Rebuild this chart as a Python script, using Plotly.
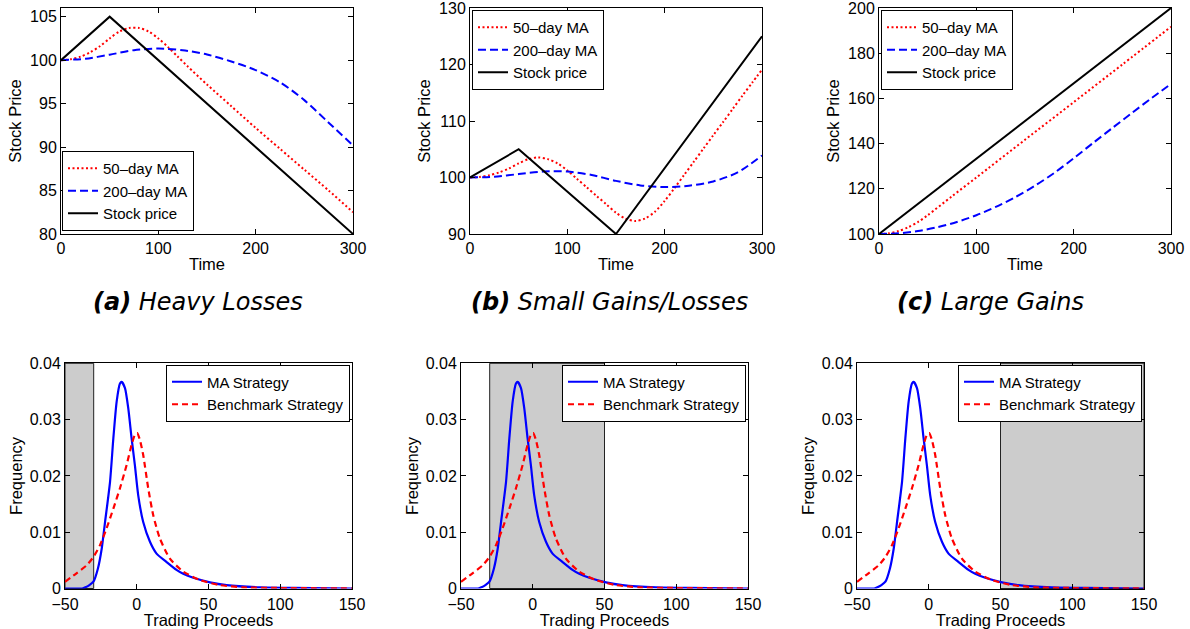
import plotly.graph_objects as go
from plotly.subplots import make_subplots

# ---------------- data: top row (stock price paths) ----------------
# (a) Heavy Losses
a_price_t = [0, 50, 300]
a_price = [100, 105, 80]
a_ma50_t = [0, 10, 20, 30, 40, 50, 60, 70, 80, 90, 100, 110, 120, 130, 150, 175, 200, 225, 250, 275, 300]
a_ma50 = [100, 100.1, 100.4, 100.9, 101.6, 102.5, 103.3, 103.7, 103.7, 103.3, 102.5, 101.5, 100.4, 99.3,
          97.2, 94.7, 92.2, 89.8, 87.4, 85.0, 82.5]
a_ma200_t = [0, 25, 50, 75, 100, 125, 150, 175, 200, 225, 250, 275, 300]
a_ma200 = [100, 100.16, 100.63, 101.15, 101.34, 101.15, 100.65, 99.85, 98.85, 97.45, 95.4, 92.8, 90.2]

# (b) Small Gains/Losses
b_price_t = [0, 50, 150, 300]
b_price = [100, 105, 90, 125]
b_ma50_t = [0, 10, 20, 30, 40, 50, 60, 70, 80, 90, 100, 110, 120, 130, 140, 150, 160, 170, 180, 190,
            200, 210, 220, 230, 240, 250, 260, 270, 280, 290, 300]
b_ma50 = [100, 100.1, 100.4, 100.9, 101.6, 102.5, 103.25, 103.55, 103.25, 102.5, 101.25, 99.75, 98.25,
          96.75, 95.25, 93.75, 92.7, 92.3, 92.75, 93.95, 95.85, 98.1, 100.45, 102.8, 105.15, 107.5,
          109.8, 112.15, 114.5, 116.8, 119.1]
b_ma200_t = [0, 25, 50, 75, 100, 125, 150, 175, 200, 225, 250, 275, 300]
b_ma200 = [100, 100.15, 100.6, 101.05, 101.05, 100.45, 99.4, 98.6, 98.3, 98.55, 99.3, 100.9, 103.9]

# (c) Large Gains
c_price_t = [0, 300]
c_price = [100, 200]
c_ma50_t = [0, 10, 20, 30, 40, 50, 75, 100, 150, 200, 250, 300]
c_ma50 = [100, 100.3, 101.3, 103.0, 105.3, 108.3, 116.7, 125.0, 141.7, 158.3, 175.0, 191.7]
c_ma200_t = [0, 20, 40, 60, 80, 100, 120, 140, 160, 180, 200, 220, 240, 260, 280, 300]
c_ma200 = [100, 100.3, 101.3, 103.0, 105.3, 108.3, 112.0, 116.3, 121.3, 127.0, 133.5, 140.3, 147.0,
           153.6, 160.1, 166.4]

# ---------------- data: bottom row (distributions) ----------------
ma_x = [-50, -38, -35.8, -33, -30.2, -27, -24.4, -22.1, -18.6, -16.3, -14, -11.7, -10.5, -8.2, -5.9,
        -3.6, -1.3, 1.0, 4.5, 9.2, 13.8, 20.8, 27.7, 32.4, 39.4, 51, 62.6, 85.8, 109, 150]
ma_y = [0, 0, 0.0002, 0.0006, 0.0012, 0.0036, 0.0071, 0.0118, 0.019, 0.0267, 0.0332, 0.0364, 0.0367,
        0.0356, 0.032, 0.0267, 0.0219, 0.0166, 0.0118, 0.0083, 0.0062, 0.0047, 0.0033, 0.0026, 0.0019,
        0.0011, 0.0006, 0.0002, 0.0001, 0]
bench_x = [-50, -42, -35, -30.2, -25.6, -21, -16.3, -11.7, -7.1, -3.6, -1.3, 0.3, 2.2, 4.5, 8, 11.5,
           16.1, 23.1, 32.4, 44, 58, 74.2, 97.5, 150]
bench_y = [0.0012, 0.0027, 0.0041, 0.0056, 0.0077, 0.0107, 0.0142, 0.0178, 0.0219, 0.0255, 0.0273,
           0.0276, 0.0264, 0.0237, 0.0178, 0.013, 0.0089, 0.0053, 0.003, 0.0015, 0.0006, 0.0002,
           0.0001, 0]

shade_ranges = [(-50, -30), (-30, 50), (50, 150)]

captions = ["<b>(a)</b> Heavy Losses", "<b>(b)</b> Small Gains/Losses", "<b>(c)</b> Large Gains"]
top_yticks = [[80, 85, 90, 95, 100, 105], [90, 100, 110, 120, 130], [100, 120, 140, 160, 180, 200]]
top_yranges = [[80, 106], [90, 130], [100, 200]]
time_ticks = [0, 100, 200, 300]
proc_ticks = [-50, 0, 50, 100, 150]
freq_ticks = [0, 0.01, 0.02, 0.03, 0.04]
freq_ticktext = ["0", "0.01", "0.02", "0.03", "0.04"]

# ---------------- figure ----------------
W, H = 1190, 629
FONT = "Arial, Liberation Sans, sans-serif"
RED, BLUE, BLACK = "#ff0000", "#0000ff", "#000000"

fig = make_subplots(rows=2, cols=3)

top_sets = [
    (a_ma50_t, a_ma50, a_ma200_t, a_ma200, a_price_t, a_price),
    (b_ma50_t, b_ma50, b_ma200_t, b_ma200, b_price_t, b_price),
    (c_ma50_t, c_ma50, c_ma200_t, c_ma200, c_price_t, c_price),
]
legend_names = ["legend", "legend2", "legend3", "legend4", "legend5", "legend6"]

for i, (t50, v50, t200, v200, tp, vp) in enumerate(top_sets):
    lg = legend_names[i]
    fig.add_trace(go.Scatter(x=t50, y=v50, mode="lines", name="50\u2013day MA", legend=lg,
                             line=dict(color=RED, width=2, dash="2px,2.5px", shape="spline", smoothing=0.8)),
                  row=1, col=i + 1)
    fig.add_trace(go.Scatter(x=t200, y=v200, mode="lines", name="200\u2013day MA", legend=lg,
                             line=dict(color=BLUE, width=2, dash="8px,4px", shape="spline", smoothing=0.8)),
                  row=1, col=i + 1)
    fig.add_trace(go.Scatter(x=tp, y=vp, mode="lines", name="Stock price", legend=lg,
                             line=dict(color=BLACK, width=2)),
                  row=1, col=i + 1)

for i in range(3):
    lg = legend_names[3 + i]
    fig.add_trace(go.Scatter(x=ma_x, y=ma_y, mode="lines", name="MA Strategy", legend=lg,
                             line=dict(color=BLUE, width=2.2, shape="spline", smoothing=0.6)),
                  row=2, col=i + 1)
    fig.add_trace(go.Scatter(x=bench_x, y=bench_y, mode="lines", name="Benchmark Strategy", legend=lg,
                             line=dict(color=RED, width=2.2, dash="6px,4px", shape="spline", smoothing=0.6)),
                  row=2, col=i + 1)

# domains in pixels -> paper
top_px = (8, 234)
bot_px = (363.3, 588.5)
top_x_px = [(61, 353), (470, 762), (879, 1171)]
bot_x_px = [(65, 352), (461, 748), (857, 1144)]

def xd(p):
    return [p[0] / W, p[1] / W]

def yd(p):
    return [1 - p[1] / H, 1 - p[0] / H]

axis_common = dict(showline=True, linecolor="black", linewidth=1, mirror="ticks", ticks="inside",
                   ticklen=5, tickcolor="black", showgrid=False, zeroline=False, automargin=False,
                   ticklabeloverflow="allow",
                   tickfont=dict(family=FONT, size=16, color="black"))
title_font = dict(family=FONT, size=16.5, color="black")

for i in range(3):
    fig.update_xaxes(domain=xd(top_x_px[i]), range=[0, 300], tickvals=time_ticks,
                     title=dict(text="Time", font=title_font, standoff=2), row=1, col=i + 1, **axis_common)
    fig.update_yaxes(domain=yd(top_px), range=top_yranges[i], tickvals=top_yticks[i],
                     title=dict(text="Stock Price", font=title_font, standoff=4), row=1, col=i + 1,
                     **axis_common)
    fig.update_xaxes(domain=xd(bot_x_px[i]), range=[-50, 150], tickvals=proc_ticks,
                     ticklabelstandoff=1,
                     title=dict(text="Trading Proceeds", font=title_font, standoff=3), row=2, col=i + 1,
                     **axis_common)
    fig.update_yaxes(domain=yd(bot_px), range=[0, 0.04], tickvals=freq_ticks, ticktext=freq_ticktext,
                     title=dict(text="Frequency", font=title_font, standoff=2), row=2, col=i + 1,
                     **axis_common)

# shaded regions in bottom row
for i, (x0, x1) in enumerate(shade_ranges):
    xa = "x%d" % (4 + i)
    ya = "y%d domain" % (4 + i)
    fig.add_shape(type="rect", xref=xa, yref=ya, x0=x0, x1=x1, y0=0, y1=1,
                  fillcolor="#cccccc", line=dict(color="#222222", width=1), layer="below")

# captions
cap_x = [198, 609, 990]
for i, txt in enumerate(captions):
    fig.add_annotation(text="<i>" + txt + "</i>", xref="paper", yref="paper",
                       x=cap_x[i] / W, y=1 - 302 / H, xanchor="center", yanchor="middle",
                       showarrow=False, font=dict(family="DejaVu Sans", size=24, color="black"))

leg_common = dict(bgcolor="white", bordercolor="black", borderwidth=1,
                  font=dict(family=FONT, size=15, color="black"), tracegroupgap=0,
                  itemwidth=30, traceorder="normal")
layout_legends = {
    "legend": dict(x=62 / W, y=1 - 231 / H, xanchor="left", yanchor="bottom", **leg_common),
    "legend2": dict(x=472 / W, y=1 - 10 / H, xanchor="left", yanchor="top", **leg_common),
    "legend3": dict(x=881 / W, y=1 - 10 / H, xanchor="left", yanchor="top", **leg_common),
    "legend4": dict(x=350 / W, y=1 - 364.5 / H, xanchor="right", yanchor="top", **leg_common),
    "legend5": dict(x=746 / W, y=1 - 364.5 / H, xanchor="right", yanchor="top", **leg_common),
    "legend6": dict(x=1142 / W, y=1 - 364.5 / H, xanchor="right", yanchor="top", **leg_common),
}

fig.update_layout(width=W, height=H, margin=dict(l=0, r=0, t=0, b=0, autoexpand=False),
                  paper_bgcolor="white", plot_bgcolor="white", showlegend=True,
                  font=dict(family=FONT, color="black"), **layout_legends)

fig.write_html("out.html", config={"displayModeBar": False},
               post_script="document.body.style.margin='0';document.body.style.overflow='hidden';")
